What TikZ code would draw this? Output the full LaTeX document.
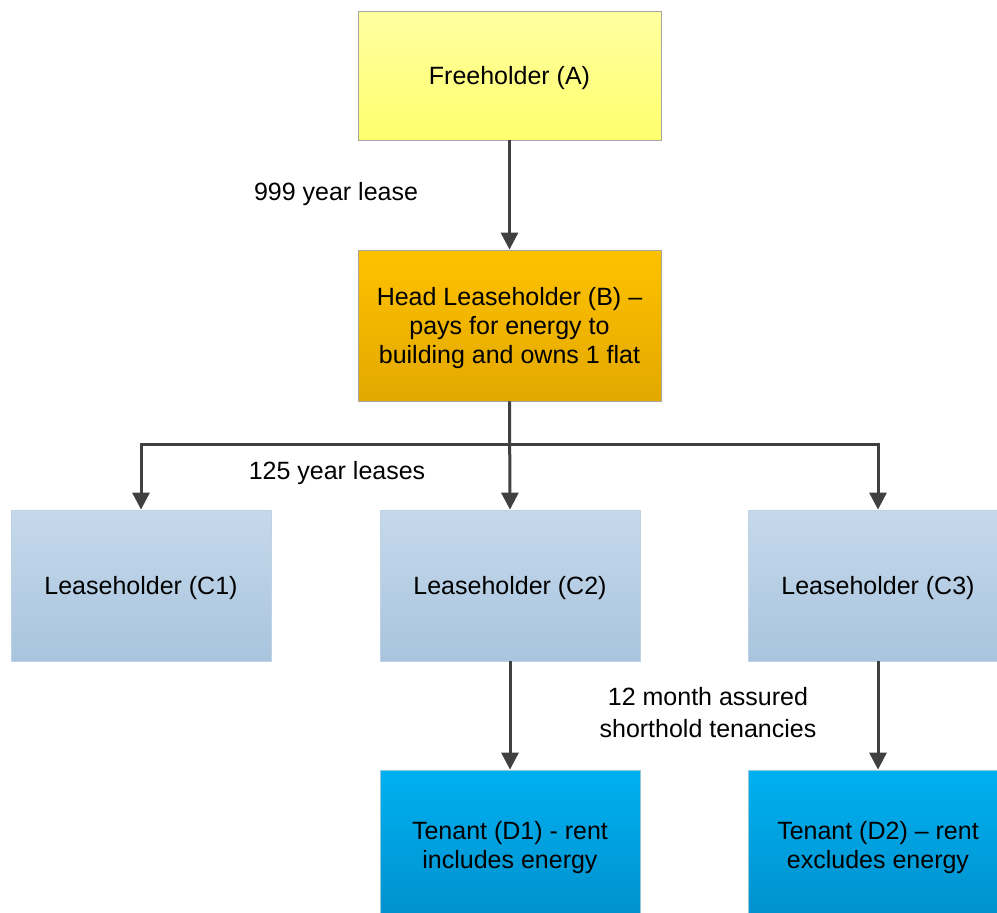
\documentclass[tikz,border=0pt]{standalone}
\usepackage{fontspec}
\setmainfont{Liberation Sans}
\usetikzlibrary{arrows.meta}
\definecolor{linec}{HTML}{404040}
\definecolor{bordc}{HTML}{A6A6A6}
\newcommand\lowtxt[1]{\raisebox{-3pt}[\height][\depth]{\begin{tabular}{@{}c@{}}#1\end{tabular}}}
\tikzset{
  x=1pt,y=-1pt,
  box/.style={rectangle,draw=bordc,line width=0.8pt,align=center,font=\fontsize{25}{29}\selectfont,inner sep=0pt},
  boxA/.style={box,minimum width=303pt,minimum height=129pt,top color={rgb,255:red,255;green,255;blue,160},bottom color={rgb,255:red,255;green,255;blue,110}},
  boxB/.style={box,minimum width=303pt,minimum height=151pt,top color={rgb,255:red,255;green,194;blue,0},bottom color={rgb,255:red,226;green,168;blue,0}},
  boxC/.style={box,draw={rgb,255:red,190;green,210;blue,228},minimum width=260pt,minimum height=151pt,top color={rgb,255:red,198;green,217;blue,235},bottom color={rgb,255:red,168;green,196;blue,222}},
  boxD/.style={box,draw={rgb,255:red,150;green,200;blue,220},minimum width=260pt,minimum height=151pt,top color={rgb,255:red,0;green,176;blue,240},bottom color={rgb,255:red,0;green,144;blue,204}},
  conn/.style={draw=linec,line width=3pt,-{Triangle[length=17pt,width=17pt]}},
  lbl/.style={font=\fontsize{25}{32}\selectfont,align=center,inner sep=0pt}
}
\begin{document}
\begin{tikzpicture}
\useasboundingbox (0,0) rectangle (997,913);
\begin{scope}
\clip (0,0) rectangle (997,913);
\node[boxA] (A) at (509.5,75.5) {\lowtxt{Freeholder (A)}};
\node[boxB] (B) at (509.5,325.5) {\lowtxt{Head Leaseholder (B) --\\pays for energy to\\building and owns 1 flat}};
\node[boxC] (C1) at (141,585.5) {\lowtxt{Leaseholder (C1)}};
\node[boxC] (C2) at (510,585.5) {\lowtxt{Leaseholder (C2)}};
\node[boxC] (C3) at (878,585.5) {\lowtxt{Leaseholder (C3)}};
\node[boxD] (D1) at (510,845.5) {\lowtxt{Tenant (D1) - rent\\includes energy}};
\node[boxD] (D2) at (878,845.5) {\lowtxt{Tenant (D2) -- rent\\excludes energy}};
\end{scope}
\coordinate (JL) at (141,444);
\coordinate (JR) at (878,444);
\draw[conn] (A.south) -- (B.north);
\draw[conn] (B.south) -- (C2.north);
\draw[draw=linec,line width=3pt] (JL) -- (JR);
\draw[conn] ([xshift=-1.5pt]JL) -- ++(1.5,0) -- (C1.north);
\draw[conn] ([xshift=1.5pt]JR) -- ++(-1.5,0) -- (C3.north);
\draw[conn] (C2.south) -- (D1.north);
\draw[conn] (C3.south) -- (D2.north);
\node[lbl] (L1) at (336,194) {999 year lease};
\node[lbl] (L2) at (337,473) {125 year leases};
\node[lbl] (L3) at (708,713) {12 month assured\\shorthold tenancies};
\end{tikzpicture}
\end{document}
